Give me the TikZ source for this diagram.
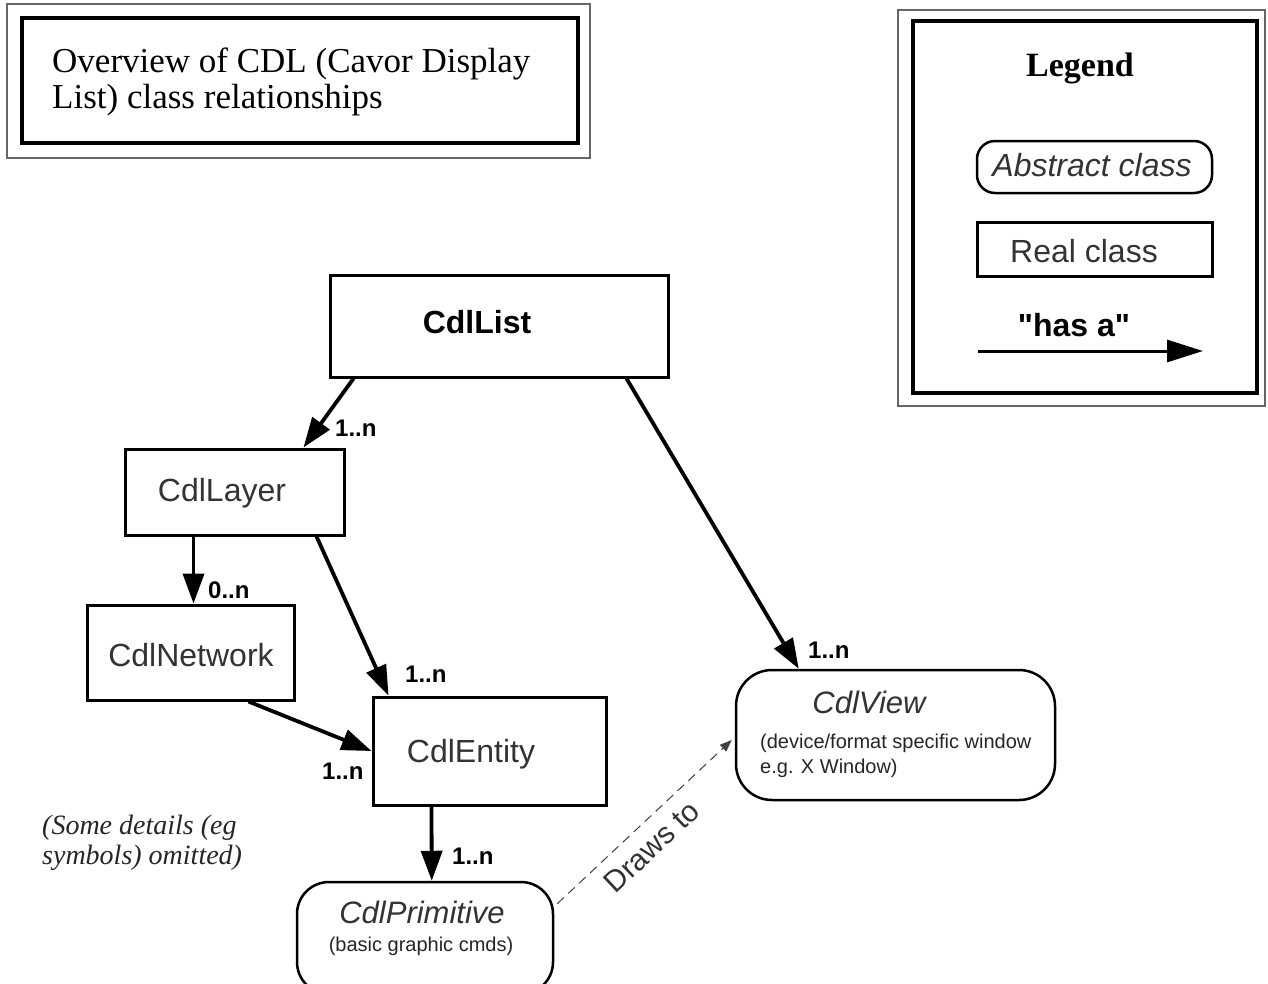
\documentclass[tikz,border=0pt]{standalone}
\usepackage{fontspec}
\setmainfont{Liberation Sans}
\newfontfamily\seriffont{Liberation Serif}
\newfontfamily\plainsans[Ligatures=TeXOff]{Liberation Sans}
\usetikzlibrary{arrows.meta,calc}
\begin{document}
\begin{tikzpicture}[x=1pt,y=-1pt,
  frameouter/.style={draw=black!60, line width=1.5pt, inner sep=0pt},
  frameinner/.style={draw=black, line width=4pt, inner sep=0pt},
  cls/.style={draw=black, line width=3pt, inner sep=0pt},
  abscls/.style={draw=black, line width=2.5pt, inner sep=0pt, rounded corners=32pt},
  lbl/.style={font=\fontsize{32}{36}\selectfont, text=black!80, inner sep=0pt},
  ilbl/.style={font=\itshape\fontsize{31}{36}\selectfont, text=black!80, inner sep=0pt},
  small/.style={font=\fontsize{20}{24}\selectfont, text=black!85, inner sep=0pt},
  mult/.style={font=\bfseries\fontsize{24}{24}\selectfont, anchor=west, inner sep=0pt},
  hasa/.style={line width=3.8pt, -{Triangle[length=30pt,width=21pt]}},
  drawsto/.style={line width=1pt, draw=black!75, dash pattern=on 9pt off 6pt, -{Triangle[length=12pt,width=9pt]}},
  titlefont/.style={font=\seriffont\fontsize{35}{37}\selectfont, inner sep=0pt}
]
\useasboundingbox (0,0) rectangle (1268,983);
\fill[white] (0,0) rectangle (1268,983);

% title
\node[frameouter, minimum width=583pt, minimum height=154pt] (titleouter) at (298.5,81) {};
\node[frameinner, minimum width=556pt, minimum height=125pt] (titleinner) at (300,80.5) {};
\node[titlefont, anchor=base west] (title1) at (52,72) {Overview of CDL (Cavor Display};
\node[titlefont, anchor=base west] (title2) at (52,108) {List) class relationships};

% legend
\node[frameouter, minimum width=367pt, minimum height=396pt] (legouter) at (1081.5,208) {};
\node[frameinner, minimum width=344pt, minimum height=372pt] (leginner) at (1084.5,207) {};
\node[font=\seriffont\bfseries\fontsize{34}{36}\selectfont, anchor=base, inner sep=0pt] (legtitle) at (1080,76) {Legend};
\node[abscls, rounded corners=18pt, minimum width=235pt, minimum height=52pt] (legabs) at (1094.5,167) {};
\node[ilbl, font=\itshape\fontsize{32}{36}\selectfont, anchor=base] (legabstext) at (1092,176) {Abstract class};
\node[cls, line width=3pt, minimum width=235pt, minimum height=54pt] (legreal) at (1094.5,249) {};
\node[lbl, anchor=base] (legrealtext) at (1084,262) {Real class};
\node[font=\plainsans\bfseries\fontsize{32}{36}\selectfont, anchor=base, inner sep=0pt] (leghas) at (1074,336) {"has a"};
\coordinate (ha1) at (978,351);
\coordinate (ha2) at (1203,351);
\draw[line width=3pt, -{Triangle[length=36pt,width=22pt]}] (ha1) -- (ha2);

% classes
\node[cls, minimum width=338pt, minimum height=102pt] (list) at (499,326) {};
\node[lbl, font=\bfseries\fontsize{32}{36}\selectfont, text=black, anchor=base] (listtext) at (477,333) {CdlList};

\node[cls, minimum width=219pt, minimum height=86pt] (layer) at (234.5,492) {};
\node[lbl, anchor=base] (layertext) at (222,501) {CdlLayer};

\node[cls, minimum width=207pt, minimum height=95pt] (network) at (190.5,652.5) {};
\node[lbl, anchor=base] (networktext) at (191,666) {CdlNetwork};

\node[cls, minimum width=233pt, minimum height=108pt] (entity) at (489.5,751) {};
\node[lbl, anchor=base] (entitytext) at (471,762) {CdlEntity};

\node[abscls, rounded corners=36pt, minimum width=319pt, minimum height=130pt] (view) at (895.5,735) {};
\node[ilbl, anchor=base] (viewtext) at (869,713) {CdlView};
\node[small, anchor=base west] (viewsub1) at (760,748) {(device/format specific window};
\node[small, anchor=base west] (viewsub2) at (760,773) {e.g. X Window)};

\node[abscls, rounded corners=32pt, minimum width=256pt, minimum height=112pt] (prim) at (425,938) {};
\node[ilbl, anchor=base] (primtext) at (422,923) {CdlPrimitive};
\node[small, anchor=base] (primsub) at (421,951) {(basic graphic cmds)};

% connectors
\draw[hasa] ($(list.south west)+(25,0)$) -- ($(layer.north west)+(180,0)$);
\node[mult] (m1) at (335,428) {1..n};

\draw[hasa] ($(layer.south west)+(70,0)$) -- ($(network.north west)+(108,0)$);
\node[mult] (m2) at (208,590) {0..n};

\draw[hasa] ($(layer.south east)+(-29,0)$) -- ($(entity.north west)+(17,0)$);
\node[mult] (m3) at (405,674) {1..n};

\draw[hasa] ($(network.south west)+(163,0)$) -- (entity.west);
\node[mult] (m4) at (322,771) {1..n};

\draw[hasa] ($(entity.south west)+(60,0)$) -- ($(prim.north west)+(136,0)$);
\node[mult] (m5) at (452,856) {1..n};

\draw[hasa] ($(list.south east)+(-43,0)$) -- ($(view.north west)+(64,0)$);
\node[mult] (m6) at (808,650) {1..n};

\draw[drawsto] ($(prim.north east)+(3,23)$) -- ($(view.west)+(-3,5)$)
  node[pos=0.45, sloped, anchor=north, inner sep=12pt, font=\fontsize{30}{32}\selectfont, text=black!80] (drawslbl) {Draws to};

% note
\node[font=\seriffont\itshape\fontsize{28}{30}\selectfont, text=black!85, anchor=base west, inner sep=0pt] (note1) at (42,834) {(Some details (eg};
\node[font=\seriffont\itshape\fontsize{28}{30}\selectfont, text=black!85, anchor=base west, inner sep=0pt] (note2) at (42,864) {symbols) omitted)};
\end{tikzpicture}
\end{document}
